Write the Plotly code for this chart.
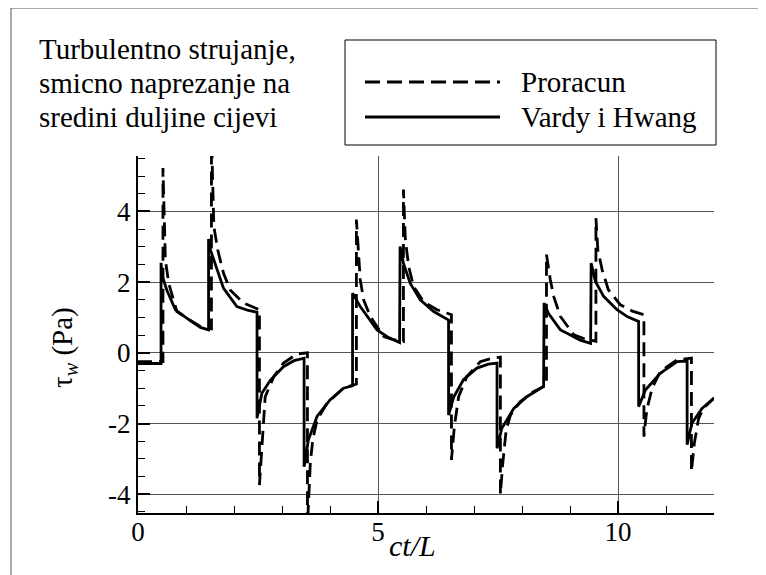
import plotly.graph_objects as go

# Vardy i Hwang (solid)
vh_x = [0, 0.48, 0.48, 0.5, 0.6, 0.78, 1.05, 1.3, 1.47, 1.47, 1.5, 1.65, 1.78, 2.06, 2.3, 2.48,
        2.48, 2.58, 2.76, 3.03, 3.25, 3.46, 3.46, 3.55, 3.73, 4.0, 4.28, 4.47, 4.47, 4.63, 4.98,
        5.2, 5.45, 5.46, 5.53, 5.67, 5.88, 6.16, 6.47, 6.47, 6.58, 6.78, 7.06, 7.3, 7.48, 7.48,
        7.58, 7.83, 8.1, 8.45, 8.46, 8.55, 8.8, 9.0, 9.21, 9.43, 9.44, 9.53, 9.7, 9.98, 10.2,
        10.43, 10.43, 10.57, 10.88, 11.23, 11.44, 11.44, 11.54, 11.75, 12.0]
vh_y = [-0.3, -0.3, 2.55, 2.2, 1.78, 1.22, 0.95, 0.72, 0.65, 3.22, 2.95, 2.35, 1.83, 1.31, 1.2, 1.15,
        -1.85, -1.14, -0.77, -0.39, -0.22, -0.15, -3.22, -2.46, -1.8, -1.33, -1.0, -0.93, 1.69, 1.31, 0.65,
        0.45, 0.29, 3.01, 2.54, 1.97, 1.5, 1.17, 0.93, -1.76, -1.24, -0.76, -0.43, -0.32, -0.29, -2.7,
        -2.13, -1.57, -1.24, -0.95, 1.41, 1.12, 0.65, 0.51, 0.36, 0.27, 2.54, 2.02, 1.6, 1.22, 1.02,
        0.89, -1.52, -1.05, -0.58, -0.25, -0.23, -2.6, -1.99, -1.57, -1.28]

# Proracun (dashed)
pr_x = [0, 0.52, 0.52, 0.55, 0.57, 0.64, 0.74, 0.81, 1.05, 1.3, 1.53, 1.53, 1.58, 1.66, 1.78, 1.92,
        2.2, 2.44, 2.53, 2.53, 2.6, 2.65, 2.83, 3.03, 3.31, 3.53, 3.53, 3.59, 3.64, 3.73, 3.94, 4.28,
        4.55, 4.55, 4.63, 4.7, 4.84, 5.12, 5.3, 5.53, 5.53, 5.57, 5.64, 5.74, 5.95, 6.23, 6.53, 6.53,
        6.59, 6.68, 6.85, 7.13, 7.38, 7.55, 7.55, 7.6, 7.67, 7.76, 7.96, 8.24, 8.51, 8.51, 8.59, 8.66,
        8.8, 9.08, 9.3, 9.54, 9.54, 9.58, 9.67, 9.8, 10.05, 10.3, 10.54, 10.54, 10.6, 10.71, 10.88,
        11.23, 11.53, 11.53, 11.59, 11.68, 11.78, 12.0]
pr_y = [-0.25, -0.25, 5.23, 3.4, 2.63, 1.97, 1.5, 1.17, 0.95, 0.75, 0.68, 6.2, 3.58, 2.92, 2.26, 1.78,
        1.41, 1.27, 1.22, -3.74, -2.18, -1.24, -0.67, -0.29, -0.03, 0.0, -4.9, -3.12, -2.46, -1.9, -1.42, -1.0,
        -0.88, 3.77, 2.07, 1.5, 1.03, 0.46, 0.38, 0.32, 4.62, 3.2, 2.44, 1.88, 1.45, 1.22, 1.08, -3.03,
        -2.09, -1.24, -0.67, -0.25, -0.15, -0.12, -4.0, -3.12, -2.18, -1.76, -1.38, -1.1, -0.91, 2.78, 2.07, 1.6,
        1.03, 0.51, 0.4, 0.33, 3.81, 2.92, 2.35, 1.78, 1.36, 1.18, 1.08, -2.37, -1.61, -1.0, -0.53,
        -0.2, -0.15, -3.36, -2.56, -1.85, -1.57, -1.28]

x_ticks = [0, 5, 10]
y_ticks = [-4, -2, 0, 2, 4]
y_ticktext = ["-4", "-2", "0", "2", "4"]

title_lines = ["Turbulentno strujanje,", "smicno naprezanje na", "sredini duljine cijevi"]
series_names = ["Proracun", "Vardy i Hwang"]

W, H = 766, 575
OFF = 8  # page body margin offset
L, R, T, B = 138 - OFF, 714 - OFF, 156 - OFF, 513 - OFF
FONT = "Liberation Serif"


def px(x):
    # x given in screen pixels
    return (x - OFF - L) / (R - L)


def py(y):
    return (B - (y - OFF)) / (B - T)


fig = go.Figure()
fig.add_trace(go.Scatter(x=pr_x, y=pr_y, mode="lines", name=series_names[0],
                         line=dict(color="black", width=2.8, dash="14px,7px"), showlegend=False))
fig.add_trace(go.Scatter(x=vh_x, y=vh_y, mode="lines", name=series_names[1],
                         line=dict(color="black", width=2.8), showlegend=False))

axis_common = dict(
    showline=True, linecolor="black", linewidth=2,
    ticks="inside", ticklen=12, tickwidth=2, tickcolor="black",
    showgrid=True, gridcolor="#555", gridwidth=1, zeroline=False,
    tickfont=dict(family=FONT, size=27, color="black"),
)

fig.update_xaxes(range=[0, 12], tickvals=x_ticks, ticktext=[str(v) for v in x_ticks],
                 minor=dict(dtick=1, ticks="inside", ticklen=7, tickwidth=1, tickcolor="black", showgrid=False),
                 ticklabelstandoff=-6, **axis_common)
fig.update_yaxes(range=[-4.53, 5.57], tickvals=y_ticks, ticktext=y_ticktext,
                 minor=dict(dtick=0.5, ticks="inside", ticklen=7, tickwidth=1, tickcolor="black", showgrid=False),
                 ticklabelstandoff=0, **axis_common)

annotations = []
for i, t in enumerate(title_lines):
    annotations.append(dict(text=t, xref="paper", yref="paper", x=px(37), y=py(49 + 34 * i),
                            xanchor="left", yanchor="middle", showarrow=False,
                            font=dict(family=FONT, size=29, color="black")))
for i, n in enumerate(series_names):
    annotations.append(dict(text=n, xref="paper", yref="paper", x=px(519), y=py(82 + 35 * i),
                            xanchor="left", yanchor="middle", showarrow=False,
                            font=dict(family=FONT, size=29, color="black")))
annotations.append(dict(text="τ<sub><i>w</i></sub> (Pa)", xref="paper", yref="paper", x=px(64), y=py(348),
                        xanchor="center", yanchor="middle", textangle=-90, showarrow=False,
                        font=dict(family=FONT, size=29, color="black")))
annotations.append(dict(text="<i>ct/L</i>", xref="paper", yref="paper", x=px(412), y=py(545),
                        xanchor="center", yanchor="middle", showarrow=False,
                        font=dict(family=FONT, size=30, color="black")))

shapes = [
    dict(type="rect", xref="paper", yref="paper", x0=px(345), x1=px(716), y0=py(40), y1=py(145),
         line=dict(color="black", width=1), fillcolor="white"),
    dict(type="line", xref="paper", yref="paper", x0=px(365), x1=px(500), y0=py(82), y1=py(82),
         line=dict(color="black", width=2.8, dash="15px,7px")),
    dict(type="line", xref="paper", yref="paper", x0=px(365), x1=px(500), y0=py(117), y1=py(117),
         line=dict(color="black", width=2.8)),
    dict(type="line", xref="paper", yref="paper", x0=px(11), x1=px(780), y0=py(8), y1=py(8),
         line=dict(color="#555", width=1)),
    dict(type="line", xref="paper", yref="paper", x0=px(11), x1=px(11), y0=py(8), y1=py(590),
         line=dict(color="#555", width=1)),
]

fig.update_layout(
    width=W, height=H,
    margin=dict(l=L, r=W - R, t=T, b=H - B),
    paper_bgcolor="white", plot_bgcolor="white",
    annotations=annotations, shapes=shapes, showlegend=False,
    font=dict(family=FONT, color="black"),
)

fig.write_html("out.html")
